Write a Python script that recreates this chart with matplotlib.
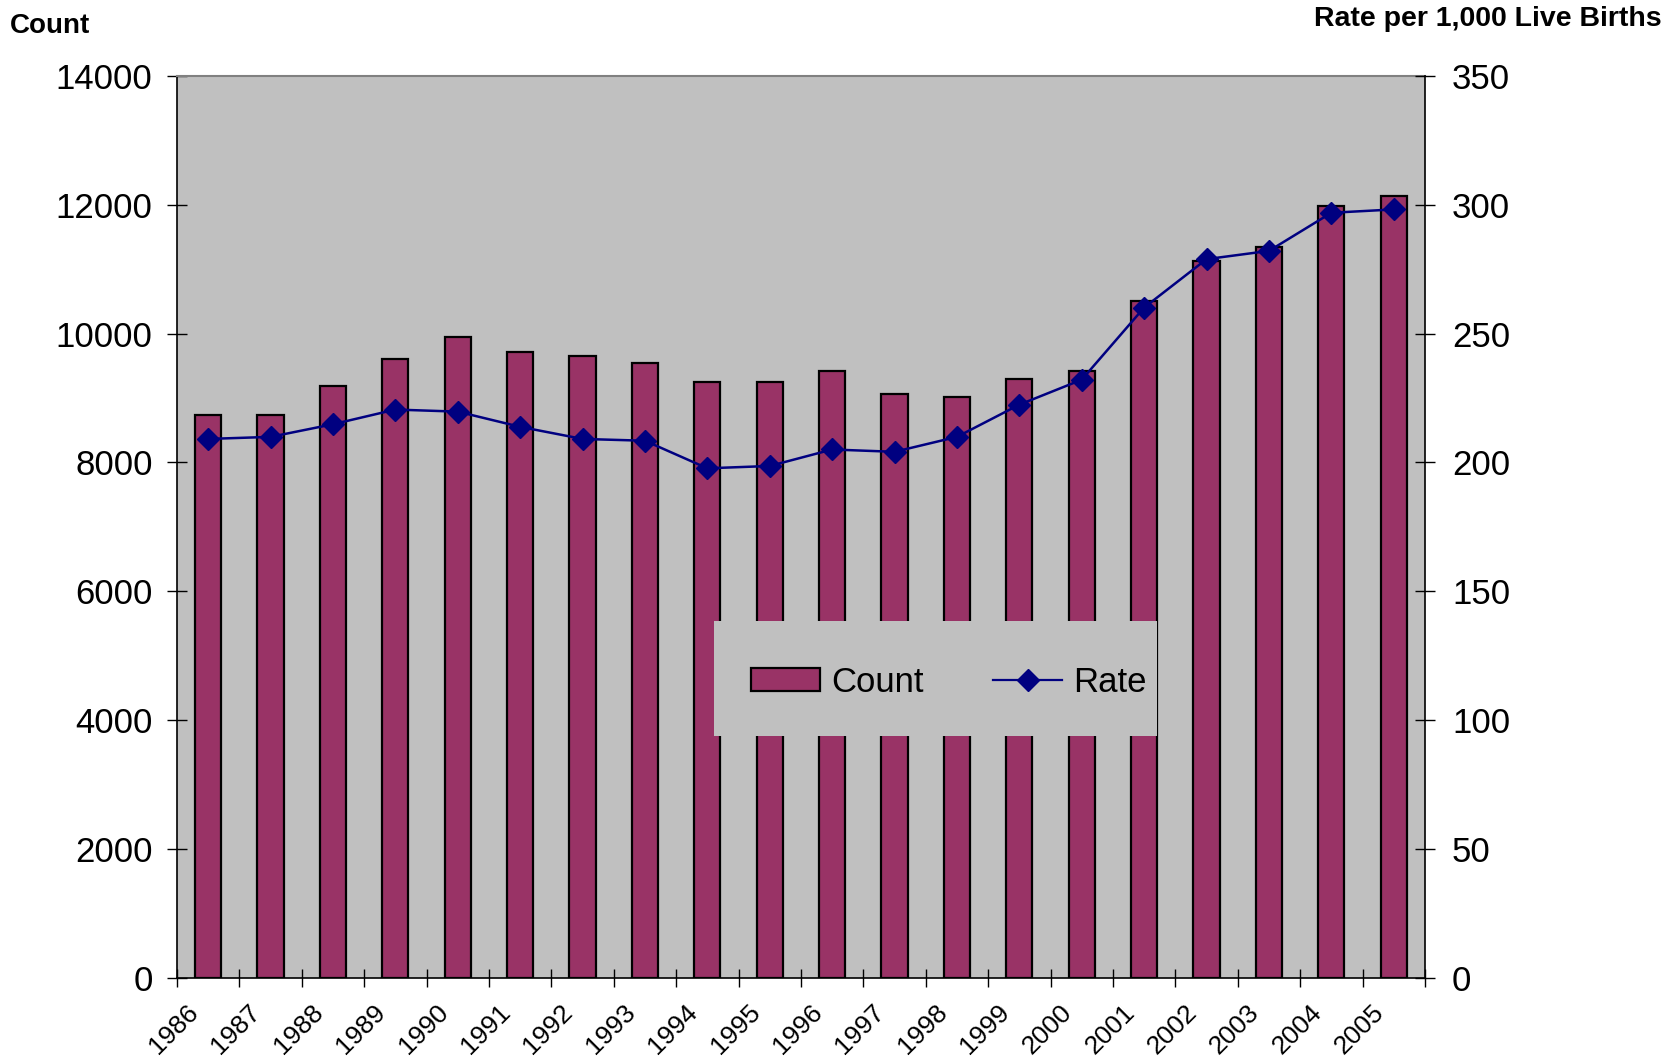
import matplotlib
matplotlib.use("Agg")
import matplotlib.pyplot as plt
import matplotlib.transforms as mtransforms
from matplotlib.patches import Patch, Rectangle
from matplotlib.lines import Line2D
import numpy as np

plt.rcParams['font.family'] = ['Liberation Sans', 'DejaVu Sans']

years = ['1986', '1987', '1988', '1989', '1990', '1991', '1992', '1993', '1994', '1995',
         '1996', '1997', '1998', '1999', '2000', '2001', '2002', '2003', '2004', '2005']
counts = [8730, 8730, 9190, 9610, 9940, 9710, 9650, 9550, 9250, 9250,
          9420, 9060, 9020, 9290, 9420, 10500, 11130, 11350, 11980, 12140]
rates = [209.1, 209.9, 214.8, 220.5, 219.7, 213.8, 209.1, 208.4, 197.7, 198.6,
         205.0, 204.1, 209.9, 222.4, 232.1, 260.1, 278.9, 282.1, 296.9, 298.2]
count_ticks = [0, 2000, 4000, 6000, 8000, 10000, 12000, 14000]
rate_ticks = [0, 50, 100, 150, 200, 250, 300, 350]

BAR = '#993366'
LINE = '#000080'
BG = '#C0C0C0'
W, H = 1677, 1063

fig = plt.figure(figsize=(W / 100, H / 100), dpi=100)
ax = fig.add_axes([0.1055, 0.0804, 0.7442, 0.8481])
ax.set_facecolor(BG)

x = np.arange(len(years))
ax.bar(x, counts, width=0.42, color=BAR, edgecolor='black', linewidth=1.6, zorder=2)
ax.set_xlim(-0.5, len(years) - 0.5)
ax.set_ylim(0, 14000)
ax.set_yticks(count_ticks)
ax.set_yticklabels([str(v) for v in count_ticks], fontsize=25)
ax.tick_params(axis='y', direction='inout', length=15, width=1.0, pad=10)

ax.set_xticks(x)
ax.set_xticklabels(years, fontsize=19, rotation=45, ha='right', va='top',
                   rotation_mode='default')
ax.tick_params(axis='x', which='major', length=0, pad=16)
offset = mtransforms.ScaledTranslation(-5 / 100, 0, fig.dpi_scale_trans)
for lbl in ax.get_xticklabels():
    lbl.set_transform(lbl.get_transform() + offset)
ax.set_xticks(np.arange(-0.5, len(years)), minor=True)
ax.tick_params(axis='x', which='minor', direction='inout', length=13, width=1.0)

for s in ['left', 'bottom']:
    ax.spines[s].set_color('black')
    ax.spines[s].set_linewidth(1.2)
ax.spines['top'].set_color('#808080')
ax.spines['top'].set_linewidth(1.5)
ax.spines['right'].set_visible(False)

ax2 = ax.twinx()
ax2.plot(x, rates, color=LINE, linewidth=1.8, marker='D', markersize=11,
         markerfacecolor=LINE, markeredgecolor=LINE, zorder=3)
ax2.set_ylim(0, 350)
ax2.set_yticks(rate_ticks)
ax2.set_yticklabels([str(v) for v in rate_ticks], fontsize=25)
ax2.tick_params(axis='y', direction='inout', length=15, width=1.0, pad=12)
ax2.spines['right'].set_color('black')
ax2.spines['right'].set_linewidth(1.2)
ax2.spines['top'].set_visible(False)
ax2.spines['left'].set_visible(False)
ax2.spines['bottom'].set_visible(False)

fig.text(10 / W, 1 - 26 / H, 'Count', fontsize=20, fontweight='bold',
         ha='left', va='center')
fig.text(1662 / W, 1 - 19 / H, 'Rate per 1,000 Live Births', fontsize=20.5,
         fontweight='bold', ha='right', va='center')

# legend background box
bx0, bx1, by0, by1 = 714, 1157, 621, 736
fig.patches.append(Rectangle((bx0 / W, 1 - by1 / H), (bx1 - bx0) / W, (by1 - by0) / H,
                             transform=fig.transFigure, facecolor=BG, edgecolor='none',
                             zorder=4))

handles = [Patch(facecolor=BAR, edgecolor='black', linewidth=1.6),
           Line2D([0], [0], color=LINE, linewidth=1.6, marker='D', markersize=11,
                  markerfacecolor=LINE, markeredgecolor=LINE)]
leg = fig.legend(handles, ['Count', 'Rate'], ncol=2, fontsize=25,
                 loc='center left', bbox_to_anchor=(751 / W, 1 - 682 / H),
                 frameon=False, borderpad=0, borderaxespad=0,
                 handlelength=2.0, handleheight=0.62, handletextpad=0.3,
                 columnspacing=2.0)
leg.set_zorder(5)

fig.savefig('out.png', dpi=100)
